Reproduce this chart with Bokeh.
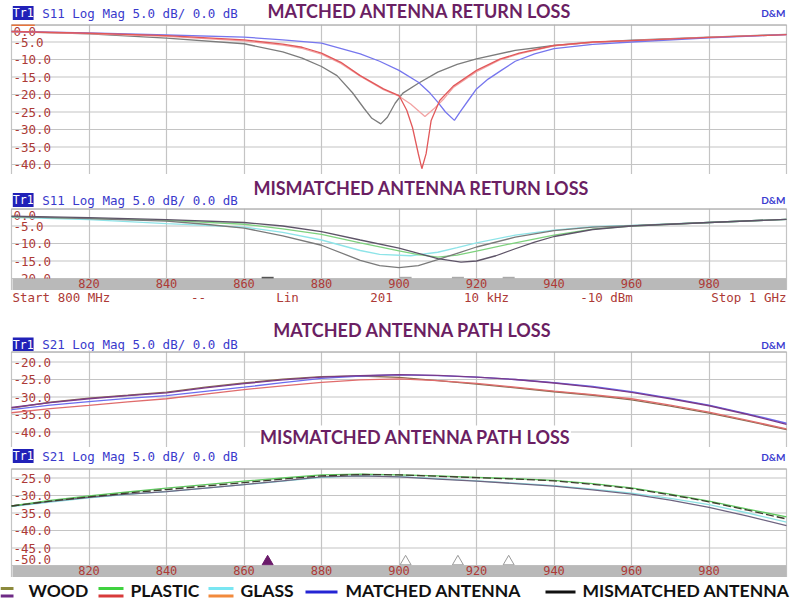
from bokeh.plotting import figure
from bokeh.models import Range1d, Label, FixedTicker, Grid
from bokeh.layouts import column
from bokeh.embed import file_html
from bokeh.resources import INLINE
from bokeh.core.properties import value

# ---------------- data ----------------
grid_freqs = [800, 820, 840, 860, 880, 900, 920, 940, 960, 980, 1000]
tick_freqs = [820, 840, 860, 880, 900, 920, 940, 960, 980]

rl_ticks_matched = [0, -5, -10, -15, -20, -25, -30, -35, -40]
rl_ticks_mismatched = [0, -5, -10, -15, -20]
pl_ticks_matched = [-20, -25, -30, -35, -40]
pl_ticks_mismatched = [-25, -30, -35, -40, -45, -50]

# Panel 1: matched antenna return loss (S11)
m_rl_gray_f = [800, 820, 840, 860, 870, 875, 880, 884, 888, 891, 893, 895.3, 897, 899, 901, 905, 910, 915, 920, 930, 940, 950, 960, 980, 1000]
m_rl_gray_db = [-2.0, -2.7, -3.9, -5.5, -7.8, -9.6, -12.0, -14.6, -19.5, -24.0, -26.8, -28.4, -26.5, -22.5, -19.6, -16.8, -13.6, -11.4, -9.8, -7.4, -6.0, -5.1, -4.5, -3.6, -2.8]
m_rl_red_f = [800, 820, 840, 860, 870, 875, 880, 885, 890, 896, 900, 902, 903.5, 905, 905.9, 907, 908.3, 910.5, 914, 920, 926, 931, 940, 950, 960, 980, 1000]
m_rl_red_db = [-2.0, -2.5, -3.2, -4.4, -5.6, -6.5, -8.2, -10.8, -14.6, -18.4, -20.3, -24.5, -29.5, -37.0, -41.2, -36.9, -27.4, -21.7, -17.6, -13.1, -9.9, -8.2, -6.0, -5.0, -4.6, -3.7, -2.9]
m_rl_pink_f = [800, 820, 840, 860, 870, 875, 880, 885, 890, 896, 900, 903, 906.7, 909, 911.6, 914, 920, 926, 931, 940, 950, 960, 980, 1000]
m_rl_pink_db = [-2.1, -2.6, -3.4, -4.7, -5.9, -6.8, -8.5, -11.1, -14.8, -18.6, -20.5, -22.7, -26.3, -24.1, -21.2, -18.0, -13.5, -10.1, -8.4, -6.1, -5.1, -4.6, -3.7, -2.9]
m_rl_blue_f = [800, 820, 840, 860, 870, 880, 890, 895, 900, 905, 908, 910, 912, 914.3, 916, 918, 920, 923, 926.4, 930, 935, 940, 950, 960, 980, 1000]
m_rl_blue_db = [-2.0, -2.4, -3.0, -3.6, -4.4, -5.3, -8.4, -10.5, -13.1, -16.5, -19.6, -22.2, -25.0, -27.4, -24.6, -21.5, -18.4, -15.6, -13.1, -10.5, -8.4, -6.9, -5.7, -5.0, -3.8, -2.9]

# Panel 2: mismatched antenna return loss (S11)
mm_rl_gray_f = [800, 820, 840, 850, 860, 870, 880, 890, 895, 900, 905, 910, 915, 920, 930, 940, 950, 960, 980, 1000]
mm_rl_gray_db = [-2.3, -2.9, -3.6, -4.5, -5.6, -7.8, -10.5, -14.8, -16.3, -16.9, -16.3, -14.6, -12.8, -11.0, -8.2, -6.3, -5.3, -4.9, -4.0, -3.1]
mm_rl_dark_f = [800, 820, 840, 860, 870, 880, 890, 900, 905, 910, 916, 920, 925, 930, 935, 940, 950, 960, 980, 1000]
mm_rl_dark_db = [-2.2, -2.6, -3.2, -4.0, -5.0, -6.6, -9.0, -11.3, -12.8, -14.3, -15.3, -15.0, -13.5, -11.5, -9.6, -8.0, -6.0, -5.0, -4.0, -3.1]
mm_rl_green_f = [800, 820, 840, 860, 870, 880, 890, 900, 905, 910, 915, 920, 930, 940, 950, 960, 980, 1000]
mm_rl_green_db = [-2.3, -2.8, -3.4, -4.5, -5.8, -7.4, -9.8, -12.1, -13.2, -13.9, -13.3, -12.2, -9.8, -7.6, -5.9, -5.0, -4.0, -3.1]
mm_rl_cyan_f = [800, 820, 840, 860, 870, 880, 890, 895, 903, 910, 915, 920, 930, 940, 950, 960, 980, 1000]
mm_rl_cyan_db = [-2.5, -3.2, -4.3, -5.3, -6.8, -9.0, -12.0, -13.1, -13.5, -12.5, -11.2, -9.8, -7.6, -6.2, -5.2, -4.8, -4.0, -3.1]

# Panels 3 and 4: path loss (S21), 10 MHz readings
pl_f = [800, 810, 820, 830, 840, 850, 860, 870, 880, 890, 900, 910, 920, 930, 940, 950, 960, 970, 980, 990, 1000]
m_pl_purple_db = [-33.0, -31.6, -30.5, -29.6, -28.8, -27.4, -26.2, -25.1, -24.3, -23.9, -23.6, -23.8, -24.3, -25.0, -26.0, -27.2, -28.7, -30.5, -32.5, -35.0, -37.8]
m_pl_blue_db = [-33.6, -32.3, -31.3, -30.4, -29.6, -28.4, -27.2, -25.9, -24.7, -24.0, -23.7, -23.9, -24.3, -25.0, -25.9, -27.0, -28.5, -30.3, -32.3, -34.8, -37.5]
m_pl_red_db = [-34.5, -33.3, -32.4, -31.4, -30.5, -29.2, -27.9, -26.8, -25.8, -25.1, -24.8, -25.3, -26.1, -27.2, -28.3, -29.3, -30.5, -32.3, -34.3, -36.7, -39.1]
m_pl_brown_db = [-33.2, -31.5, -30.3, -29.5, -28.6, -27.2, -26.0, -24.9, -24.2, -24.0, -24.4, -25.3, -26.3, -27.4, -28.5, -29.5, -30.8, -32.6, -34.6, -36.9, -39.3]

mm_pl_green_db = [-33.0, -31.4, -30.1, -29.0, -27.9, -26.9, -25.9, -25.0, -24.1, -23.9, -24.1, -24.4, -24.8, -25.2, -25.7, -26.6, -27.8, -29.6, -31.6, -33.9, -36.1]
mm_pl_dark_db = [-33.0, -31.6, -30.4, -29.3, -28.3, -27.3, -26.3, -25.3, -24.4, -24.0, -24.1, -24.5, -24.9, -25.3, -25.8, -26.8, -28.0, -29.8, -31.8, -34.2, -36.7]
mm_pl_cyan_db = [-33.2, -31.9, -30.7, -29.7, -28.9, -27.9, -26.9, -25.9, -24.8, -24.4, -24.6, -25.2, -25.8, -26.5, -27.2, -28.2, -29.3, -30.8, -32.6, -35.0, -37.6]
mm_pl_gray_db = [-33.0, -31.7, -30.5, -29.6, -28.9, -27.9, -26.9, -25.8, -24.7, -24.4, -24.7, -25.3, -25.9, -26.6, -27.3, -28.4, -29.6, -31.3, -33.4, -35.9, -38.6]

marker_active_f = [866.1]
marker_other_f = [901.7, 915.2, 928.3]

titles = ["MATCHED ANTENNA RETURN LOSS", "MISMATCHED ANTENNA RETURN LOSS",
          "MATCHED ANTENNA PATH LOSS", "MISMATCHED ANTENNA PATH LOSS"]
headers = ["S11 Log Mag 5.0 dB/ 0.0 dB", "S11 Log Mag 5.0 dB/ 0.0 dB",
           "S21 Log Mag 5.0 dB/ 0.0 dB", "S21 Log Mag 5.0 dB/ 0.0 dB"]
status_texts = ["Start 800 MHz", "--", "Lin", "201", "10 kHz", "-10 dBm", "Stop 1 GHz"]

legend_labels = ["WOOD", "PLASTIC", "GLASS", "MATCHED ANTENNA", "MISMATCHED ANTENNA"]
legend_top_colors = ["#8c8a3c", "#3fd23f", "#79e6f2", "#2424d4", "#111111"]
legend_bottom_colors = ["#6e2a86", "#d83a3a", "#f28a3c", None, None]

# ---------------- style / layout ----------------
PAGE_W = 800
PLOT_L = 11          # pixel of 800 MHz
PLOT_R = 786         # pixel of 1000 MHz
PX_PER_MHZ = (PLOT_R - PLOT_L) / 200.0
PX_PER_DB = 3.5
LABEL_RED = "#ad3a36"
TITLE_PURPLE = "#6b1f63"
HEADER_BLUE = "#3a3acc"
GRID = "#c4c4c4"
BAND = "#b9b9b9"
MONO = "DejaVu Sans Mono"
LW = 1.3

X_LO = 800 - PLOT_L / PX_PER_MHZ
X_HI = 1000 + (PAGE_W - PLOT_R) / PX_PER_MHZ


def make_panel(plot_h, band_h, y_hi, ticks):
    y_bottom = y_hi - plot_h / PX_PER_DB          # bottom of the trace area
    y_lo = y_bottom - band_h / PX_PER_DB          # bottom incl. frequency band
    p = figure(frame_width=PAGE_W, frame_height=plot_h + band_h, min_border=0,
               x_range=Range1d(X_LO, X_HI), y_range=Range1d(y_lo, y_hi),
               x_axis_location=None, y_axis_location=None,
               toolbar_location=None, output_backend="svg")
    p.center = []
    p.outline_line_color = None
    p.background_fill_color = "white"
    p.border_fill_color = "white"
    p.add_layout(Grid(dimension=0, ticker=FixedTicker(ticks=grid_freqs),
                      grid_line_color=GRID, grid_line_width=1.2), "center")
    hlines = sorted(set(ticks + [y_hi]))
    p.segment(x0=[800] * len(hlines), x1=[1000] * len(hlines), y0=hlines, y1=hlines,
              line_color=GRID, line_width=1.2)
    p.segment(x0=[800], x1=[1000], y0=[y_hi], y1=[y_hi], line_color="#b0b0b0", line_width=2.4)

    common = dict(text_align="left", text_font=value(MONO), text_font_size="12.5px",
                  text_color=LABEL_RED, x_offset=2)
    top_t = [t for t in ticks if abs(t - y_hi) < 0.01]
    at_bottom = [t for t in ticks if abs(t - y_bottom) < 0.01]
    mids = [t for t in ticks if y_bottom + 0.01 < t < y_hi - 0.01]
    lifted = []
    if at_bottom and band_h > 0 and len(ticks) > 5:
        lifted = at_bottom           # VNA lifts the last label above the band
    else:
        mids = mids + at_bottom      # label partly hidden under the band
    p.text(x=[800] * len(mids), y=mids, text=[f"{t:.1f}" for t in mids],
           text_baseline="middle", **common)
    if top_t:
        p.text(x=[800] * len(top_t), y=top_t, text=[f"{t:.1f}" for t in top_t],
               text_baseline="top", y_offset=2, **common)
    if lifted:
        p.text(x=[800] * len(lifted), y=lifted, text=[f"{t:.1f}" for t in lifted],
               text_baseline="bottom", y_offset=-2, **common)
    p.tags = [y_bottom, y_lo]
    return p


def add_band(p):
    y_bottom, y_lo = p.tags
    p.quad(left=[800 + 1 / PX_PER_MHZ], right=[1000], bottom=[y_lo], top=[y_bottom],
           fill_color=BAND, line_color=None)
    p.text(x=tick_freqs, y=[(y_lo + y_bottom) / 2] * len(tick_freqs),
           text=[str(f) for f in tick_freqs], text_align="center", text_baseline="middle",
           y_offset=-1, text_font=value(MONO), text_font_size="12px", text_color=LABEL_RED)


def make_strip(h):
    s = figure(frame_width=PAGE_W, frame_height=h, min_border=0,
               x_range=Range1d(0, PAGE_W), y_range=Range1d(0, h),
               x_axis_location=None, y_axis_location=None,
               toolbar_location=None, output_backend="svg")
    s.center = []
    s.outline_line_color = None
    s.background_fill_color = "white"
    s.border_fill_color = "white"
    return s


def label(fig, x, y, text, **kw):
    fig.add_layout(Label(x=x, y=y, x_units="screen", y_units="screen", text=text, **kw))


def add_title(fig, x, y, idx, **kw):
    label(fig, x, y, titles[idx], text_align="center", text_baseline="middle",
          text_font="Lato", text_font_style="bold", text_font_size="18px",
          text_color=TITLE_PURPLE, **kw)


def add_header(fig, idx, y_head, y_dm):
    label(fig, 12.3, y_head, "Tr1", text_align="left", text_baseline="middle",
          text_font=MONO, text_font_size="11.5px", text_color="white",
          background_fill_color="#2121b8")
    label(fig, 41.7, y_head, headers[idx], text_align="left", text_baseline="middle",
          text_font=MONO, text_font_size="12.5px", text_color=HEADER_BLUE)
    label(fig, 785, y_dm, "D&M", text_align="right", text_baseline="middle",
          text_font="Lato", text_font_style="bold", text_font_size="10px",
          text_color="#3b3bd0")


# ---- header 1 + panel 1   (page y 0..24, 24..174)
h1 = make_strip(24)
add_title(h1, 419, 14, 0)
add_header(h1, 0, 11.5, 11.3)

p1 = make_panel(150, 0, 0.0, rl_ticks_matched)
p1.segment(x0=[800], x1=[806], y0=[0], y1=[0], line_color="#e8743c", line_width=3)
p1.line(m_rl_gray_f, m_rl_gray_db, line_color="#7c7c7c", line_width=LW)
p1.line(m_rl_pink_f, m_rl_pink_db, line_color="#f2a2a2", line_width=LW)
p1.line(m_rl_blue_f, m_rl_blue_db, line_color="#7676ee", line_width=LW)
p1.line(m_rl_red_f, m_rl_red_db, line_color="#e2585a", line_width=LW)

# ---- header 2 + panel 2 + status line   (174..208, 208..290, 290..304)
h2 = make_strip(34)
add_title(h2, 421, 20.5, 1)
add_header(h2, 1, 8.5, 8.5)

p2 = make_panel(70, 12, 0.0, rl_ticks_mismatched)
p2.line(mm_rl_cyan_f, mm_rl_cyan_db, line_color="#8ee4e8", line_width=LW)
p2.line(mm_rl_green_f, mm_rl_green_db, line_color="#7ed27e", line_width=LW)
p2.line(mm_rl_gray_f, mm_rl_gray_db, line_color="#7a7a7a", line_width=LW)
p2.line(mm_rl_dark_f, mm_rl_dark_db, line_color="#5e5468", line_width=LW)
p2.scatter(marker_active_f, [-19.8], marker="dash", size=12, line_color="#555555", line_width=2)
p2.scatter(marker_other_f, [-19.8] * len(marker_other_f), marker="dash", size=12,
           line_color="#aaaaaa", line_width=2)
add_band(p2)

s2 = make_strip(14)
status_x = [12, 198, 287, 381, 486, 606, 786]
status_align = ["left", "center", "center", "center", "center", "center", "right"]
for sx, sa, st in zip(status_x, status_align, status_texts):
    label(s2, sx, 7, st, text_align=sa, text_baseline="middle", text_font=MONO,
          text_font_size="12.5px", text_color=LABEL_RED)

# ---- header 3 + panel 3 (title of panel 4 over its bottom)   (304..351, 351..447)
h3 = make_strip(47)
add_title(h3, 412, 22, 2)
add_header(h3, 2, 7, 6.5)

p3 = make_panel(96, 0, -17.0, pl_ticks_matched)
p3.line(pl_f, m_pl_brown_db, line_color="#8a6a50", line_width=LW)
p3.line(pl_f, m_pl_red_db, line_color="#e06c6c", line_width=LW)
p3.line(pl_f, m_pl_blue_db, line_color="#6c6cee", line_width=LW)
p3.line(pl_f, m_pl_purple_db, line_color="#7a3a8a", line_width=LW)
add_title(p3, 415, 11, 3, background_fill_color="white")

# ---- header 4 + panel 4   (447..468, 468..577)
h4 = make_strip(21)
add_header(h4, 3, 12.5, 12)

p4 = make_panel(97, 12, -50.0 + 97 / PX_PER_DB, pl_ticks_mismatched)
p4.line(pl_f, mm_pl_cyan_db, line_color="#8ee2e4", line_width=LW)
p4.line(pl_f, mm_pl_gray_db, line_color="#6e6480", line_width=LW)
p4.line(pl_f, mm_pl_green_db, line_color="#5fc95f", line_width=LW)
p4.line(pl_f, mm_pl_dark_db, line_color="#3d3d2d", line_width=LW, line_dash="8 3")
p4.scatter(marker_active_f, [-48.9], marker="triangle", size=11,
           fill_color="#6a1a6a", line_color="#6a1a6a")
p4.scatter(marker_other_f, [-48.9] * len(marker_other_f), marker="triangle", size=11,
           fill_color="white", line_color="#999999")
add_band(p4)

# ---- legend strip   (577..600)
leg = make_strip(23)
icon_x0 = [0, 98, 208, 305, 545]
icon_x1 = [13, 123, 233, 337, 575]
text_x = [28, 130, 240, 345, 582]
for i, lab in enumerate(legend_labels):
    if legend_bottom_colors[i] is None:
        leg.segment(x0=[icon_x0[i]], x1=[icon_x1[i]], y0=[8.5], y1=[8.5],
                    line_color=legend_top_colors[i], line_width=3)
    else:
        leg.segment(x0=[icon_x0[i]], x1=[icon_x1[i]], y0=[12], y1=[12],
                    line_color=legend_top_colors[i], line_width=3)
        leg.segment(x0=[icon_x0[i]], x1=[icon_x1[i]], y0=[4.5], y1=[4.5],
                    line_color=legend_bottom_colors[i], line_width=3)
leg.text(x=text_x, y=[10.5] * len(legend_labels), text=legend_labels,
         text_align="left", text_baseline="middle", text_font=value("Lato"),
         text_font_style="bold", text_font_size="17.5px", text_color="#111111")

layout = column(h1, p1, h2, p2, s2, h3, p3, h4, p4, leg, spacing=0)
open("out.html", "w").write(file_html(layout, INLINE))
